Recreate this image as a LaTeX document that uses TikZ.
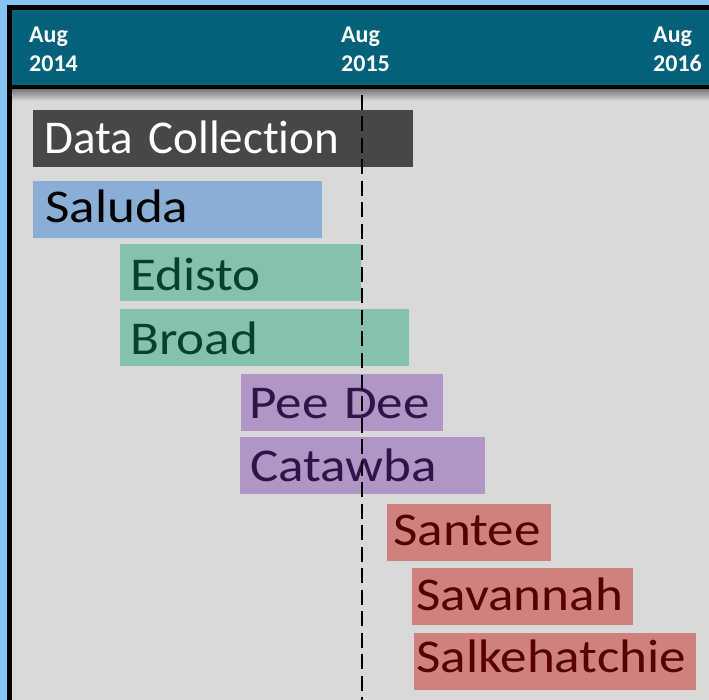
\documentclass[tikz,border=0pt]{standalone}
\usepackage{fontspec}
\setmainfont[Ligatures=NoCommon]{Carlito}
\newfontfamily\barfont[Ligatures=NoCommon,FakeStretch=1.13]{Carlito}

\definecolor{skyback}{HTML}{86C5F1}
\definecolor{headteal}{HTML}{03617A}
\definecolor{bodygray}{HTML}{D9D9D9}
\definecolor{collgray}{HTML}{474747}
\definecolor{salublue}{HTML}{8AAFD5}
\definecolor{mintfill}{HTML}{86C1B0}
\definecolor{mintink}{HTML}{08402E}
\definecolor{lilacfill}{HTML}{B096C6}
\definecolor{lilacink}{HTML}{2F1547}
\definecolor{rosefill}{HTML}{D0817F}
\definecolor{roseink}{HTML}{560000}

\begin{document}
\begin{tikzpicture}[x=1pt,y=-1pt,
    bar/.style={anchor=south west, inner sep=0pt, align=left,
      font=\barfont\fontsize{47}{52}\selectfont},
    sink/.style={text depth=#1, text height=57pt-#1},
    year/.style={anchor=base west, inner sep=0pt, text=white, align=left,
      font=\bfseries\fontsize{24}{29}\selectfont}]
    \useasboundingbox (0,0) rectangle (709,700);
    % Frame and header
    \fill[skyback] (-3,-3) rectangle (712,703);
    \fill[black] (7,5) rectangle (712,703);
    \fill[headteal] (12,10) rectangle (712,85);
    \fill[bodygray] (12,90) rectangle (712,703);
    \shade[top color=black!50, bottom color=bodygray] (12,90) rectangle (712,101);

    % Years
    \node[year] (y14) at (29,72) {Aug\\2014};
    \node[year] (y15) at (341,72) {Aug\\2015};
    \node[year] (y16) at (653,72) {Aug\\2016};

    % Bars
    \node[bar, sink=13pt, font=\rmfamily\fontsize{47}{52}\selectfont, fill=collgray, text=white, text width=380pt] (coll) at (33,167) {\hspace*{11pt}Data Collection};
    \node[bar, sink=15pt, fill=salublue, text=black, text width=289pt] (saluda) at (33,238) {\hspace*{12pt}Saluda};
    \node[bar, sink=10pt, fill=mintfill, text=mintink, text width=241pt] (edisto) at (120,301) {\hspace*{10pt}Edisto};
    \node[bar, sink=11pt, fill=mintfill, text=mintink, text width=289pt] (broad) at (120,366) {\hspace*{10pt}Broad};
    \node[bar, sink=12pt, fill=lilacfill, text=lilacink, text width=202pt] (peedee) at (241,431) {\hspace*{8pt}Pee Dee};
    \node[bar, sink=12pt, fill=lilacfill, text=lilacink, text width=245pt] (catawba) at (240,494) {\hspace*{10pt}Catawba};
    \node[bar, sink=15pt, fill=rosefill, text=roseink, text width=164pt] (santee) at (387,561) {\hspace*{6pt}Santee};
    \node[bar, sink=14pt, fill=rosefill, text=roseink, text width=221pt] (savannah) at (412,625) {\hspace*{4pt}Savannah};
    \node[bar, sink=17pt, fill=rosefill, text=roseink, text width=282pt] (salke) at (414,690) {\hspace*{2pt}Salkehatchie};

    % Today line
    \coordinate (now) at (362,95);
    \draw[line width=1.6pt, dash pattern=on 15pt off 6.5pt] (now) -- (now |- 0,703);
\end{tikzpicture}
\end{document}
